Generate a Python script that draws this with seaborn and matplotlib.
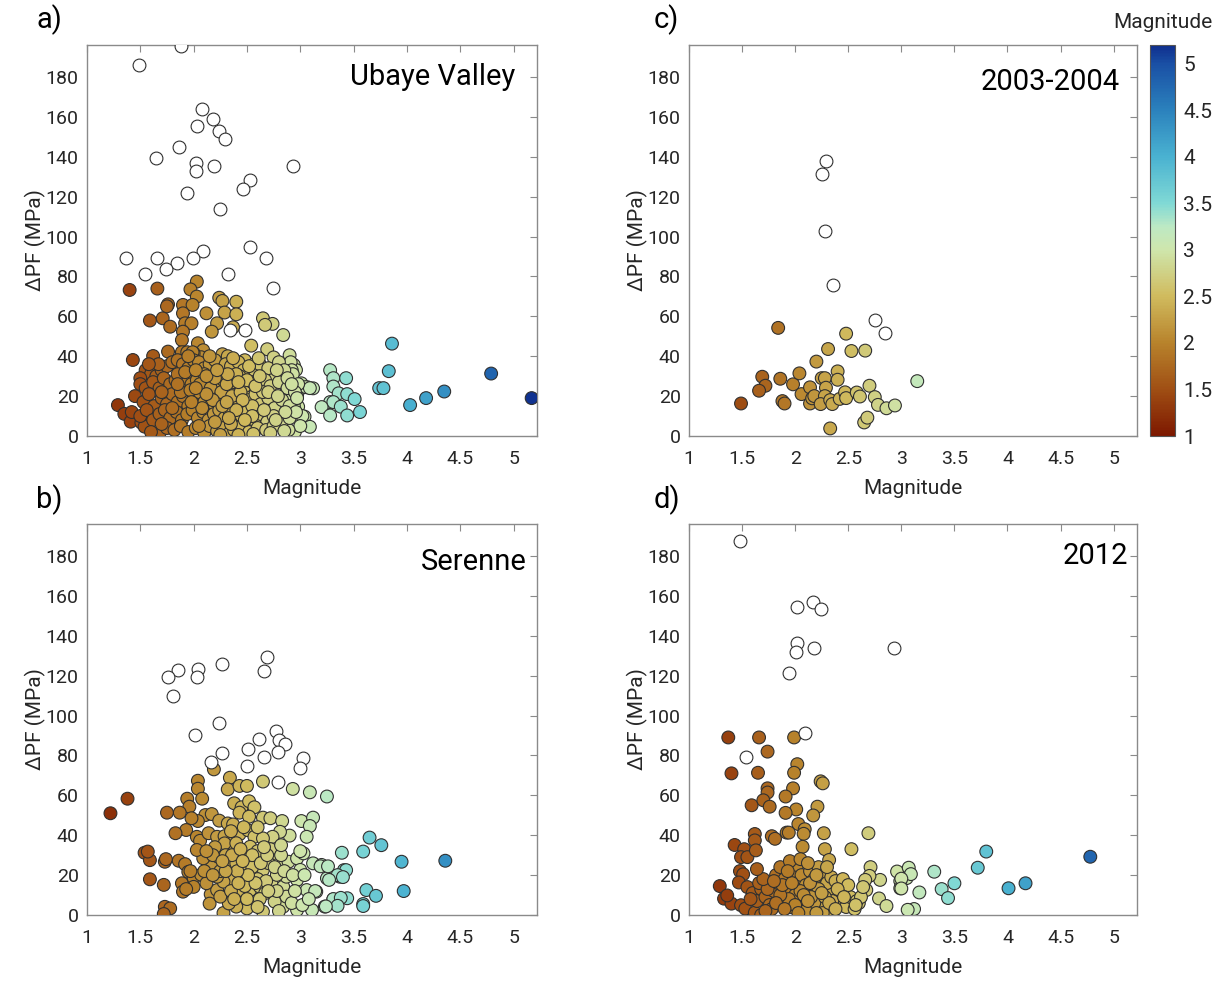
import matplotlib
matplotlib.use("Agg")
import matplotlib.pyplot as plt
from matplotlib.colors import LinearSegmentedColormap, Normalize
from matplotlib.cm import ScalarMappable
from matplotlib.ticker import FormatStrFormatter, MultipleLocator
import pandas as pd
import seaborn as sns

# (magnitude, dPF in MPa); "open" points are drawn hollow
ubaye_open = [
    (1.88, 195.6), (1.49, 186), (2.08, 164), (2.18, 159), (2.03, 155.5), (2.24, 153),
    (2.29, 149), (1.86, 145), (1.65, 139.5), (2.02, 137), (2.02, 133), (2.19, 135.5),
    (2.93, 135.5), (2.53, 128.5), (2.46, 124), (1.94, 122), (2.25, 114), (2.53, 94.6),
    (1.37, 89), (1.66, 89), (2.68, 89), (2.09, 92.6), (1.99, 89), (1.84, 86.8),
    (1.74, 83.8), (1.54, 81), (2.32, 81), (2.74, 74), (2.34, 53), (2.48, 53.3),
]
ubaye_filled = [
    (1.40, 73.2), (1.66, 73.9), (2.03, 77.4), (1.97, 73.5), (2.03, 69.9), (2.24, 69.3),
    (2.27, 67.7), (2.40, 67.3), (1.76, 66.0), (1.90, 65.7), (1.99, 65.7), (1.71, 59.0),
    (1.59, 57.9), (1.78, 54.8), (1.90, 61.5), (1.92, 56.5), (1.98, 56.5), (1.90, 52.3),
    (1.89, 48.1), (2.12, 61.5), (2.29, 61.9), (2.40, 61.0), (2.22, 56.5), (2.17, 52.3),
    (2.37, 54.5), (2.65, 59.0), (2.74, 56.2), (2.67, 55.7), (2.84, 50.6), (2.04, 46.5),
    (2.54, 45.3), (2.69, 43.5), (1.43, 38.1), (1.62, 40.1), (1.76, 42.3), (2.90, 40.5),
    (2.75, 39.4), (1.75, 65.0), (2.27, 41), (2.32, 40), (2.09, 43), (2.07, 39.5),
    (2.00, 41.5), (1.89, 42), (1.94, 42), (1.99, 42), (2.48, 38), (2.57, 36),
    (2.65, 28.1), (2.73, 30.6), (2.83, 31.4), (2.94, 35.6), (2.96, 33.1), (2.86, 25.5),
    (2.92, 19.7), (3.01, 26.4), (3.07, 24.4), (3.12, 23.9), (2.98, 14.7), (3.04, 9.7),
    (2.86, 6.3), (2.95, 2.1), (3.09, 4.6), (2.76, 16.4), (2.68, 4.6), (2.60, 13),
    (2.53, 19.7), (2.91, 37), (2.92, 33), (2.93, 31), (3.28, 33), (3.31, 29), (3.43, 29),
    (3.31, 24.8), (3.36, 21.4), (3.44, 21), (3.28, 17), (3.31, 17), (3.51, 18.5),
    (3.38, 14.7), (3.20, 14.5), (3.28, 10.3), (3.44, 10.3), (3.56, 12), (3.74, 24),
    (3.78, 24), (3.83, 32.5), (3.86, 46.3), (4.03, 15.5), (4.18, 19), (4.35, 22.3),
    (4.79, 31.3), (5.17, 19), (3.01, 24), (3.05, 24.5), (3.09, 24), (2.98, 26),
    (3.02, 10), (3.00, 5), (2.89, 3), (2.97, 20), (2.94, 15),
    (1.29, 15.5), (1.35, 11.1), (1.41, 7.2), (1.51, 6.7), (1.54, 4.7), (1.68, 1.4),
    (1.55, 33), (1.60, 31), (1.65, 30), (1.70, 33), (1.75, 35), (1.80, 37), (1.85, 38),
    (1.90, 36), (1.95, 34), (2.00, 38), (2.05, 37), (2.10, 34), (2.15, 36), (2.20, 38),
    (2.25, 33), (2.30, 36), (2.35, 35), (2.42, 37), (2.47, 33), (2.58, 32), (2.62, 36),
    (2.70, 34), (2.80, 37), (1.50, 29), (2.85, 33),
    (1.50, 26), (1.55, 24), (1.62, 27), (1.68, 24), (1.72, 29), (1.78, 26), (1.83, 28),
    (1.88, 25), (1.93, 29), (1.98, 26), (2.03, 28), (2.08, 24), (2.13, 27), (2.18, 30),
    (2.23, 25), (2.28, 28), (2.33, 23), (2.38, 27), (2.43, 30), (2.48, 25), (2.55, 27),
    (2.60, 23), (2.67, 28), (2.72, 25), (2.80, 27), (2.88, 24), (2.95, 22), (1.85, 31),
    (2.10, 31), (2.40, 31),
    (1.45, 20), (1.53, 17), (1.58, 21), (1.63, 15), (1.70, 19), (1.75, 16), (1.80, 21),
    (1.85, 17), (1.90, 20), (1.95, 15), (2.00, 19), (2.05, 22), (2.10, 17), (2.15, 20),
    (2.20, 15), (2.25, 19), (2.30, 21), (2.35, 16), (2.40, 19), (2.46, 14), (2.52, 18),
    (2.58, 21), (2.63, 16), (2.70, 19), (2.76, 14), (2.83, 18), (2.90, 15), (2.97, 19),
    (1.42, 12), (1.50, 10), (1.56, 13), (1.62, 8), (1.68, 11), (1.73, 13), (1.78, 9),
    (1.84, 12), (1.89, 8), (1.94, 11), (1.99, 13), (2.04, 9), (2.09, 12), (2.14, 8),
    (2.19, 11), (2.24, 13), (2.29, 9), (2.34, 12), (2.40, 7), (2.45, 10), (2.50, 12),
    (2.57, 8), (2.63, 11), (2.69, 7), (2.75, 10), (2.82, 6), (2.90, 9), (2.96, 12),
    (1.60, 2), (1.75, 4), (1.82, 3), (1.88, 5), (1.95, 2), (2.02, 4), (2.10, 1.5),
    (2.15, 5), (2.22, 2.5), (2.28, 4), (2.33, 1), (2.38, 3), (2.45, 5), (2.52, 2),
    (2.60, 4), (2.68, 3), (2.75, 5), (2.85, 2.5), (1.70, 6), (2.25, 0.5), (2.42, 0.5),
    (1.88, 22), (1.97, 23), (2.06, 26), (2.16, 24), (2.26, 22), (2.31, 26), (2.20, 29),
    (1.92, 32), (2.02, 33), (2.12, 30), (2.36, 20), (2.18, 18), (2.08, 14), (1.98, 17),
    (2.27, 15), (2.44, 22), (2.50, 28), (2.32, 31), (1.80, 14), (1.70, 22), (2.05, 5),
    (2.20, 7), (2.35, 6), (2.55, 15), (2.65, 22),
    (2.22, 33), (2.37, 39), (2.52, 35), (2.61, 39), (2.78, 33), (2.88, 29), (2.70, 22),
    (2.58, 25), (2.46, 18), (2.40, 13), (2.55, 10), (2.66, 13), (2.79, 20), (2.86, 12),
    (2.72, 1.5), (2.56, 1), (2.48, 8), (2.31, 17), (2.12, 21), (2.02, 24), (1.85, 26),
    (1.67, 36), (1.58, 36), (1.95, 40), (2.15, 40), (2.42, 27), (2.62, 30), (2.77, 8),
    (2.92, 26), (2.33, 9),
]

serenne_open = [
    (2.69, 129.5), (2.66, 122.4), (2.27, 125.7), (1.85, 122.7), (1.76, 119.2), (2.04, 123.5),
    (2.03, 119.5), (1.81, 110), (2.24, 96.4), (2.01, 90), (2.77, 92.3), (2.80, 87.8),
    (2.86, 85.6), (2.61, 88.4), (2.79, 81.6), (2.51, 83.4), (2.27, 81.4), (2.66, 79.2),
    (3.03, 78.7), (3.00, 73.6), (2.16, 76.6), (2.50, 74.9), (2.79, 66.5),
]
serenne_filled = [
    (1.22, 51), (1.38, 58.3), (2.19, 73), (2.04, 67.3), (2.04, 63.3), (2.34, 68.8),
    (2.32, 63), (2.43, 64.7), (2.50, 64.7), (2.65, 66.9), (2.93, 63.2), (3.09, 61.5),
    (3.25, 59.4), (1.94, 58.3), (2.08, 58.3), (1.96, 54.3), (1.87, 51.3), (1.75, 51.3),
    (2.38, 56), (2.45, 54), (2.52, 57), (2.57, 54), (2.11, 50.1), (2.17, 50.6),
    (2.04, 47.1), (1.98, 48.5), (1.93, 42.6), (1.83, 41), (2.24, 47.3), (2.32, 45.9),
    (2.37, 45.4), (2.43, 51.3), (2.52, 49.3), (2.65, 48.8), (2.72, 48.5), (2.83, 47.1),
    (3.01, 47.1), (3.12, 48.8), (3.09, 44.6), (3.06, 39.2), (2.90, 39.8), (2.81, 41.7),
    (2.74, 39.2), (2.03, 39.2), (2.06, 37.2), (2.14, 41), (2.22, 39.2), (2.29, 39.5),
    (2.36, 35.9), (2.43, 40.5), (2.51, 42.5), (2.57, 39.2), (2.65, 38.4),
    (1.54, 31.2), (1.59, 27.5), (1.73, 26.7), (1.86, 27.2), (1.92, 25.5), (1.95, 21.6),
    (1.59, 17.9), (1.72, 15.1), (1.89, 15.9), (1.90, 11.7), (2.00, 18.5), (2.07, 20.2),
    (1.73, 4.1), (1.78, 3.3), (1.72, 0.5), (2.00, 14.1), (2.16, 10.4), (2.15, 5.7),
    (2.28, 1.0), (2.22, 12.5), (1.57, 31.8), (1.74, 28), (1.93, 13), (1.97, 22),
    (2.17, 24.2), (2.23, 29.2), (2.29, 35.9), (2.33, 25.9), (2.40, 25.9), (2.47, 30.1),
    (2.53, 34.2), (2.58, 27.6), (2.65, 22.6), (2.73, 29.2), (2.81, 25.9), (2.89, 26.7),
    (2.97, 28.4), (3.03, 30.9), (3.12, 25.9), (3.20, 25.1), (3.25, 18.4), (3.37, 19.2),
    (3.44, 8.4), (3.31, 7.8), (3.23, 4.2), (3.11, 2.5), (2.97, 2.5), (2.84, 4.2),
    (2.76, 6.7), (2.65, 1.7), (2.56, 5.8), (2.50, 3.3), (2.40, 4.2), (2.33, 5.8),
    (2.43, 12.5), (2.53, 12.5), (2.62, 14.2), (2.73, 15.9), (2.84, 14.2), (2.97, 17.6),
    (3.06, 12.5), (3.15, 11.7), (3.00, 22.6), (2.87, 19.2), (2.78, 20.1), (2.67, 10.9),
    (2.56, 19.2), (2.47, 19.2), (2.37, 17.6), (2.28, 16.7), (2.22, 19.2), (2.12, 15.9),
    (2.09, 28.4), (2.03, 32.6), (2.25, 9.2), (2.87, 9.2),
    (2.30, 30), (2.45, 22), (2.60, 32), (2.70, 26), (2.35, 12), (2.50, 8), (2.60, 18),
    (2.20, 34), (2.40, 36), (2.55, 24), (2.68, 17), (2.78, 12), (2.92, 6), (2.62, 8),
    (2.48, 14.5), (2.38, 8), (2.18, 30), (2.10, 22), (2.25, 22), (2.72, 33), (2.82, 30),
    (2.95, 12),
    (2.36, 30), (2.44, 33), (2.55, 30), (2.63, 26), (2.69, 30), (2.76, 24), (2.85, 22),
    (2.93, 20), (2.70, 12), (2.58, 16), (2.51, 20), (2.41, 22), (2.30, 22), (2.18, 20),
    (2.12, 32), (2.27, 27), (2.42, 16), (2.60, 4), (2.80, 2), (2.46, 27), (2.66, 34),
    (2.82, 35), (2.35, 42), (2.47, 44), (2.60, 44),
    (3.00, 32), (3.39, 31.2), (3.59, 31.8), (3.65, 38.8), (3.76, 35), (3.95, 26.7),
    (4.36, 27.2), (3.97, 12), (3.19, 24.4), (3.26, 24.4), (3.41, 22.5), (3.43, 22.5),
    (3.35, 20), (3.40, 19), (3.27, 17.6), (3.14, 12), (3.04, 20), (3.62, 12.5),
    (3.71, 9.6), (3.31, 8), (3.38, 8.6), (3.35, 4.6), (3.24, 4.3), (3.59, 5.5),
    (3.59, 4.5), (3.02, 5), (3.08, 8),
]

y0304_open = [
    (2.29, 138), (2.25, 131.2), (2.28, 102.8), (2.36, 75.7), (2.75, 58.3), (2.85, 51.5),
]
y0304_filled = [
    (1.84, 54.2), (1.49, 16.3), (1.69, 29.7), (1.72, 25.2), (1.66, 22.7), (1.86, 28.7),
    (1.88, 17.5), (1.90, 16.3), (1.98, 25.9), (2.04, 31.4), (2.06, 21), (2.14, 24.4),
    (2.14, 16.3), (2.16, 18.9), (2.18, 20), (2.20, 37.3), (2.25, 29), (2.28, 29),
    (2.29, 24.2), (2.31, 43.6), (2.28, 20), (2.24, 16), (2.33, 18), (2.35, 16),
    (2.33, 3.8), (2.40, 32.4), (2.40, 28.2), (2.42, 18.6), (2.47, 21.9), (2.48, 19),
    (2.48, 51.3), (2.53, 42.6), (2.58, 21.8), (2.61, 19.8), (2.66, 42.8), (2.65, 6.8),
    (2.68, 9.2), (2.70, 25.2), (2.75, 19.5), (2.78, 15.6), (2.86, 13.9), (2.94, 15.3),
    (3.15, 27.5),
]

y2012_open = [
    (1.48, 187.6), (2.17, 157), (2.02, 154.5), (2.24, 153.3), (2.02, 136.2), (2.01, 131.6),
    (2.18, 133.9), (2.93, 133.9), (1.94, 121.2), (2.09, 91.1), (1.54, 79.4),
]
y2012_filled = [
    (1.37, 89), (1.66, 89), (1.99, 89), (1.74, 81.9), (1.40, 71), (1.65, 71.3),
    (2.02, 75.6), (1.99, 71.3), (2.24, 67), (2.26, 66), (1.74, 63.5), (1.74, 61.4),
    (1.98, 63.5), (1.91, 59.4), (1.59, 55), (1.70, 57.5), (1.76, 54.3), (2.01, 52.9),
    (1.91, 51.2), (2.21, 54.3), (2.17, 49.9), (2.03, 45.6), (2.09, 43), (2.08, 40.7),
    (1.92, 41.3), (1.94, 41.3), (2.27, 41), (2.69, 41), (1.62, 40.6), (1.62, 37.4),
    (1.78, 39.5), (1.81, 38.2), (1.43, 35.1), (1.52, 33), (1.49, 29), (1.55, 29),
    (1.63, 32.4), (2.07, 34.2), (2.28, 33), (2.53, 33), (2.32, 27.6), (1.48, 22),
    (1.51, 20.4), (1.47, 16.3),
    (2.71, 24), (2.80, 17.6), (2.70, 19.6), (2.66, 17.6), (2.67, 12.5), (2.79, 8.3),
    (2.86, 4.5), (2.96, 21.8), (3.07, 23.7), (3.05, 18.5), (2.99, 17), (2.99, 13.4),
    (3.12, 3), (3.80, 31.8), (3.72, 23.7), (4.78, 29.2), (4.01, 13.4), (4.17, 15.9),
    (3.31, 21.7), (3.50, 15.9), (3.38, 13), (3.44, 8.5), (3.17, 11.3), (3.09, 20.5),
    (3.00, 18.2), (3.00, 13.3), (3.06, 2.6),
    (1.29, 14.5), (1.33, 8.2), (1.40, 5.7), (1.49, 4.9), (1.53, 3.2), (1.62, 1.2),
    (1.68, 0), (1.36, 9.8),
    (1.55, 14), (1.60, 11), (1.64, 7), (1.68, 13), (1.72, 9), (1.76, 5), (1.80, 12),
    (1.84, 16), (1.88, 8), (1.92, 13), (1.96, 4), (2.00, 10), (2.04, 17), (2.08, 6),
    (2.12, 12), (2.16, 3), (2.20, 9), (2.24, 15), (2.28, 5), (2.32, 11), (2.36, 2),
    (2.40, 8), (2.44, 14), (2.48, 4), (2.52, 9), (2.56, 3), (2.60, 6),
    (1.58, 8), (1.66, 16), (1.74, 13), (1.82, 20), (1.86, 24), (1.90, 18), (1.98, 22),
    (2.02, 25), (2.06, 20), (2.10, 15), (2.14, 22), (2.18, 18), (2.22, 24), (2.26, 20),
    (2.30, 16), (2.34, 19), (2.38, 17), (2.45, 18), (2.50, 15), (2.42, 10), (2.18, 6),
    (2.26, 1), (2.10, 2), (1.94, 8), (1.78, 3), (1.70, 18), (1.64, 23), (1.95, 27),
    (2.05, 28), (2.12, 26), (2.22, 13), (2.35, 7), (2.05, 12), (1.86, 10), (2.00, 5),
    (2.30, 24), (1.88, 15), (2.15, 9), (2.28, 9), (2.58, 7), (2.62, 9), (2.64, 14),
    (2.57, 5),
    (1.97, 16), (2.08, 10), (2.14, 16), (2.20, 20), (2.32, 6), (2.40, 13), (2.46, 9),
    (1.82, 6), (1.72, 2), (2.03, 1), (2.20, 1), (2.38, 3), (1.90, 3), (2.12, 7),
    (2.25, 11), (1.80, 17), (1.93, 22),
]

panel_letters = ["a)", "b)", "c)", "d)"]
panel_titles = ["Ubaye Valley", "Serenne", "2003-2004", "2012"]

# colour scale (roma-like), anchors at these magnitudes
cmap_values = [1.0, 1.5, 2.0, 2.5, 3.0, 3.25, 3.5, 4.0, 4.5, 5.0, 5.2]
cmap_colors = ["#7d1800", "#a04f14", "#b8832c", "#d0bb5e", "#cfe6ac", "#bde9c4",
               "#80d9d5", "#4ab2d1", "#2b82bd", "#1a50a5", "#0f2f8e"]
mag_min, mag_max = 1.0, 5.2

norm = Normalize(vmin=mag_min, vmax=mag_max)
roma = LinearSegmentedColormap.from_list(
    "roma_like", [(norm(v), c) for v, c in zip(cmap_values, cmap_colors)]
)

sns.set_style("white")
plt.rcParams["font.family"] = ["Roboto", "DejaVu Sans"]

AX_GRAY = "#8a8a8a"
TXT = "#262626"
EDGE = "#303030"
MS = 85


def to_frame(points):
    return pd.DataFrame(points, columns=["Magnitude", "dPF"])


def draw_panel(ax, filled, hollow, title, title_pos):
    sns.scatterplot(data=to_frame(filled), x="Magnitude", y="dPF", hue="Magnitude",
                    palette=roma, hue_norm=norm, s=MS, edgecolor=EDGE, linewidth=0.8,
                    legend=False, ax=ax, zorder=3)
    sns.scatterplot(data=to_frame(hollow), x="Magnitude", y="dPF", color="white",
                    s=MS, edgecolor=EDGE, linewidth=0.8, legend=False, ax=ax, zorder=3)
    ax.set_xlim(1, 5.22)
    ax.set_ylim(0, 196)
    ax.xaxis.set_major_locator(MultipleLocator(0.5))
    ax.xaxis.set_major_formatter(FormatStrFormatter("%g"))
    ax.set_yticks(range(0, 181, 20))
    ax.tick_params(direction="in", top=True, right=True, length=5, width=0.8,
                   color=AX_GRAY, labelsize=14, labelcolor=TXT)
    ax.tick_params(axis="x", pad=10)
    ax.tick_params(axis="y", pad=6)
    for sp in ax.spines.values():
        sp.set_color(AX_GRAY)
        sp.set_linewidth(1.0)
    ax.set_xlabel("Magnitude", fontsize=15, color=TXT, labelpad=8)
    ax.set_ylabel("ΔPF (MPa)", fontsize=15, color=TXT, labelpad=0)
    ax.text(title_pos[0], title_pos[1], title, transform=ax.transAxes, ha="right",
            va="center", fontsize=21, color="black")


fig = plt.figure(figsize=(12.25, 9.81), dpi=100)
W, H = 1225, 981


def px_axes(left, top, right, bottom):
    return fig.add_axes([left / W, 1 - bottom / H, (right - left) / W, (bottom - top) / H])


ax_a = px_axes(87, 45, 537, 436)
ax_b = px_axes(87, 524, 537, 915)
ax_c = px_axes(689, 45, 1137, 436)
ax_d = px_axes(689, 524, 1137, 915)

draw_panel(ax_a, ubaye_filled, ubaye_open, panel_titles[0], (0.952, 0.918))
draw_panel(ax_b, serenne_filled, serenne_open, panel_titles[1], (0.978, 0.903))
draw_panel(ax_c, y0304_filled, y0304_open, panel_titles[2], (0.962, 0.905))
draw_panel(ax_d, y2012_filled, y2012_open, panel_titles[3], (0.980, 0.918))

for (x, y), letter in zip([(36, 20), (36, 500), (654, 20), (654, 500)], panel_letters):
    fig.text(x / W, 1 - y / H, letter, fontsize=21, color="black", ha="left", va="center")

cax = px_axes(1150, 45, 1175, 436)
cb = fig.colorbar(ScalarMappable(norm=norm, cmap=roma), cax=cax)
cb.set_ticks([1, 1.5, 2, 2.5, 3, 3.5, 4, 4.5, 5])
cb.ax.yaxis.set_major_formatter(FormatStrFormatter("%g"))
cb.ax.tick_params(direction="in", length=3, color=AX_GRAY, labelsize=15,
                  labelcolor=TXT, pad=6)
cb.outline.set_edgecolor("#555555")
cb.outline.set_linewidth(0.8)
fig.text(1163 / W, 1 - 22 / H, "Magnitude", fontsize=15, color=TXT, ha="center", va="center")

fig.savefig("out.png", dpi=100)
plt.close(fig)
